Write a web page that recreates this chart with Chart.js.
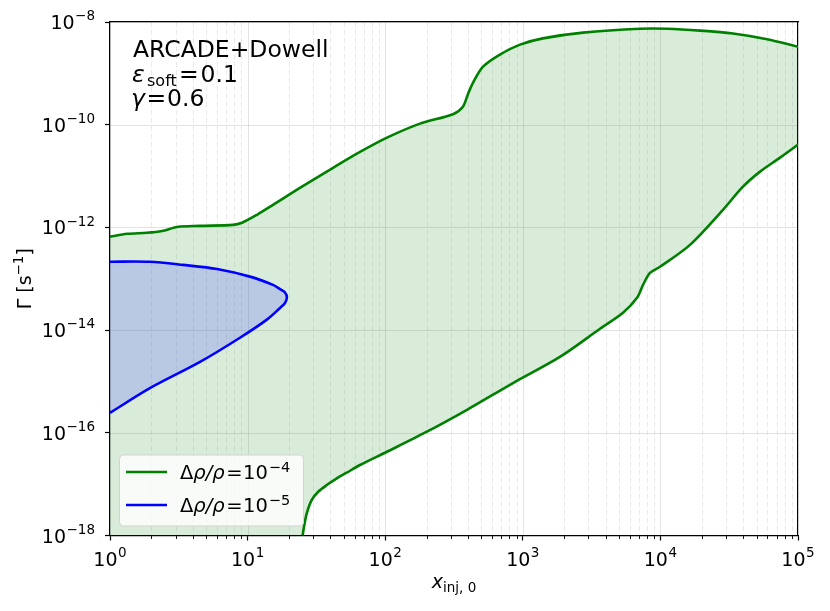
<!DOCTYPE html>
<html>
<head>
<meta charset="utf-8">
<script src="https://cdn.jsdelivr.net/npm/chart.js@4.4.1/dist/chart.umd.min.js"></script>
<style>
html,body{margin:0;padding:0;background:#fff;}
#wrap{width:830px;height:611px;}
</style>
</head>
<body>
<div id="wrap"><canvas id="c" width="830" height="611"></canvas></div>
<script>
// ---------- data ----------
// Delta rho / rho = 1e-4 contour: upper branch
const upperX = [1.0, 1.33, 1.86, 2.39, 3.07, 4.51, 7.83, 9.1, 11.7, 15.3, 24.0, 41.8, 65.6, 103, 179, 311, 367, 398, 435, 514, 682, 955, 1400, 2740, 7110, 11200, 19400, 33700, 59600, 100000];
const upperY = [6.6e-13, 7.5e-13, 7.85e-13, 8.5e-13, 1.02e-12, 1.07e-12, 1.12e-12, 1.23e-12, 1.76e-12, 2.75e-12, 5.9e-12, 1.45e-11, 2.95e-11, 5.6e-11, 1.05e-10, 1.6e-10, 2.24e-10, 3.85e-10, 6.6e-10, 1.35e-9, 2.32e-9, 3.63e-9, 4.8e-9, 6.2e-9, 7.4e-9, 7.4e-9, 6.8e-9, 5.95e-9, 4.6e-9, 3.3e-9];
// Delta rho / rho = 1e-4 contour: lower branch
const lowerX = [25.1, 25.7, 26.9, 29.2, 32.6, 37.6, 44.5, 52.5, 65.6, 103, 201, 393, 849, 1860, 3640, 5350, 6760, 7480, 8400, 9930, 16400, 28500, 39800, 53000, 74000, 100000];
const lowerY = [1e-18, 1.48e-18, 2.7e-18, 4.9e-18, 7.1e-18, 9.6e-18, 1.3e-17, 1.67e-17, 2.36e-17, 4.27e-17, 1.05e-16, 2.8e-16, 9.3e-16, 3.0e-15, 1.06e-14, 2.17e-14, 4.25e-14, 7.6e-14, 1.3e-13, 1.71e-13, 4.57e-13, 2.2e-12, 6.2e-12, 1.22e-11, 2.28e-11, 4.1e-11];
// Delta rho / rho = 1e-5 closed contour
const blueX = [1.0, 1.95, 3.4, 6.0, 10.4, 15.3, 17.2, 18.7, 19.3, 18.6, 17.2, 13.8, 8.8, 4.51, 1.95, 1.0];
const blueY = [2.15e-13, 2.14e-13, 1.86e-13, 1.55e-13, 1.1e-13, 7.6e-14, 6.3e-14, 5.4e-14, 4.3e-14, 3.3e-14, 2.7e-14, 1.6e-14, 7.1e-15, 2.4e-15, 7.4e-16, 2.45e-16];

const xTickExps = [0, 1, 2, 3, 4, 5];
const yTickExps = [-18, -16, -14, -12, -10, -8];
const legendExps = [-4, -5];
const seriesLabels = ['Δρ/ρ = 10⁻⁴', 'Δρ/ρ = 10⁻⁵'];
const annotationLines = ['ARCADE+Dowell', 'ε_soft = 0.1', 'γ = 0.6'];

const X_MIN = 1, X_MAX = 1e5, Y_MIN = 1e-18, Y_MAX = 1e-8;

// ---------- helpers ----------
const F = "'DejaVu Sans', sans-serif";
const MINUS = '\u2212';
const expStr = e => (e < 0 ? MINUS : '') + Math.abs(e);
const pts = (xs, ys) => xs.map((x, i) => ({x: x, y: ys[i]}));

const upperPts = pts(upperX, upperY);
const lowerPts = pts(lowerX, lowerY);
const bluePts = pts(blueX, blueY);

// closed polygon for the green filled region (duplicated junction points keep the curves identical to the lines)
const uFirst = upperPts[0], uLast = upperPts[upperPts.length - 1];
const lRev = lowerPts.slice().reverse();
const lFirst = lowerPts[0], lLast = lowerPts[lowerPts.length - 1];
const corner = {x: X_MIN, y: Y_MIN};
const greenPoly = [uFirst].concat(upperPts, [uLast, lLast], lRev, [lFirst, corner, corner, uFirst]);

// runs: [text, font, dy, gapBefore]
function drawRuns(ctx, x, y, runs) {
  let cx = x;
  for (const r of runs) {
    cx += (r[3] || 0);
    ctx.font = r[1];
    ctx.fillText(r[0], cx, y + (r[2] || 0));
    cx += ctx.measureText(r[0]).width;
  }
  return cx - x;
}
function measureRuns(ctx, runs) {
  let w = 0;
  for (const r of runs) { ctx.font = r[1]; w += (r[3] || 0) + ctx.measureText(r[0]).width; }
  return w;
}
const tickRuns = e => [['10', `19px ${F}`], [expStr(e), `13.5px ${F}`, -8.7, 0.5]];

// ---------- plugins ----------
const gridPlugin = {
  id: 'mplGrid',
  beforeDatasetsDraw(chart) {
    const {ctx, chartArea: a, scales: {x, y}} = chart;
    ctx.save();
    ctx.beginPath();
    ctx.rect(a.left, a.top, a.right - a.left, a.bottom - a.top);
    ctx.clip();
    ctx.lineWidth = 1;
    ctx.setLineDash([5, 3]);
    ctx.strokeStyle = 'rgba(0,0,0,0.085)';
    for (let e = xTickExps[0]; e < xTickExps[xTickExps.length - 1]; e++) {
      for (let m = 2; m <= 9; m++) {
        const px = Math.round(x.getPixelForValue(m * Math.pow(10, e))) + 0.5;
        ctx.beginPath(); ctx.moveTo(px, a.top); ctx.lineTo(px, a.bottom); ctx.stroke();
      }
    }
    ctx.setLineDash([]);
    ctx.strokeStyle = 'rgba(0,0,0,0.11)';
    for (const e of xTickExps) {
      const px = Math.round(x.getPixelForValue(Math.pow(10, e))) + 0.5;
      ctx.beginPath(); ctx.moveTo(px, a.top); ctx.lineTo(px, a.bottom); ctx.stroke();
    }
    for (const e of yTickExps) {
      const py = Math.round(y.getPixelForValue(Math.pow(10, e))) + 0.5;
      ctx.beginPath(); ctx.moveTo(a.left, py); ctx.lineTo(a.right, py); ctx.stroke();
    }
    ctx.restore();
  },
  afterDatasetsDraw(chart) {
    const {ctx, chartArea: a} = chart;
    ctx.save();
    ctx.fillStyle = '#000';
    ctx.textBaseline = 'alphabetic';
    // annotation (mathtext-like)
    const big = `23.5px ${F}`, bigIt = `italic 23.5px ${F}`;
    ctx.font = big; ctx.fillText(annotationLines[0], 133, 56.5);
    ctx.font = bigIt; ctx.fillText('ε', 132, 81.5);
    ctx.font = `16px ${F}`; ctx.fillText('soft', 147, 86);
    ctx.font = big; ctx.fillText('=', 179, 81.5); ctx.fillText('0.1', 200.5, 81.5);
    ctx.font = bigIt; ctx.fillText('γ', 131, 106);
    ctx.font = big; ctx.fillText('=', 146.5, 106); ctx.fillText('0.6', 167, 106);

    // legend box
    const lx = a.left + 9, ly = a.bottom - 81, lw = 184, lh = 71;
    ctx.beginPath();
    if (ctx.roundRect) ctx.roundRect(lx + 0.5, ly + 0.5, lw, lh, 4); else ctx.rect(lx + 0.5, ly + 0.5, lw, lh);
    ctx.fillStyle = 'rgba(255,255,255,0.8)';
    ctx.fill();
    ctx.strokeStyle = '#d3d3d3';
    ctx.lineWidth = 1;
    ctx.stroke();
    const ds = chart.data.datasets.filter(d => d.inLegend);
    ds.forEach((d, i) => {
      const cy = ly + 17.5 + i * 33;
      ctx.strokeStyle = d.borderColor;
      ctx.lineWidth = 2.6;
      ctx.beginPath(); ctx.moveTo(lx + 7, cy); ctx.lineTo(lx + 48, cy); ctx.stroke();
      ctx.fillStyle = '#000';
      drawRuns(ctx, lx + 61, cy + 6.5, [
        ['Δ', `19.5px ${F}`], ['ρ/ρ', `italic 19.5px ${F}`],
        ['=', `19.5px ${F}`, 0, 1.5], ['10', `19.5px ${F}`, 0, 0.5],
        [expStr(legendExps[i]), `14.5px ${F}`, -6.8, 1]
      ]);
    });
    ctx.restore();
  },
  afterDraw(chart) {
    const {ctx, chartArea: a, scales: {x, y}} = chart;
    ctx.save();
    // minor x tick marks
    ctx.strokeStyle = '#000';
    ctx.lineWidth = 0.9;
    for (let e = xTickExps[0]; e < xTickExps[xTickExps.length - 1]; e++) {
      for (let m = 2; m <= 9; m++) {
        const px = Math.round(x.getPixelForValue(m * Math.pow(10, e))) + 0.5;
        ctx.beginPath(); ctx.moveTo(px, a.bottom); ctx.lineTo(px, a.bottom + 3.5); ctx.stroke();
      }
    }
    ctx.fillStyle = '#000';
    ctx.textBaseline = 'alphabetic';
    // tick labels 10^n
    for (const e of xTickExps) {
      const r = tickRuns(e);
      const w = measureRuns(ctx, r);
      drawRuns(ctx, x.getPixelForValue(Math.pow(10, e)) - w / 2, a.bottom + 30.2, r);
    }
    for (const e of yTickExps) {
      const r = tickRuns(e);
      const w = measureRuns(ctx, r);
      drawRuns(ctx, a.left - 15 - w, y.getPixelForValue(Math.pow(10, e)) + 7, r);
    }
    // x axis label
    const xr = [['x', `italic 19px ${F}`], ['inj, 0', `13.5px ${F}`, 4]];
    const xw = measureRuns(ctx, xr);
    drawRuns(ctx, (a.left + a.right) / 2 - xw / 2, 588, xr);
    // y axis label
    const yr = [['Γ [s', `19px ${F}`], [expStr(-1), `13.5px ${F}`, -8]];
    const yr2 = [']', `19px ${F}`];
    const yw = measureRuns(ctx, yr.concat([yr2]));
    ctx.translate(31, (a.top + a.bottom) / 2);
    ctx.rotate(-Math.PI / 2);
    drawRuns(ctx, -yw / 2, 0, yr.concat([yr2]));
    ctx.restore();
  }
};

// ---------- chart ----------
const ctx = document.getElementById('c').getContext('2d');
new Chart(ctx, {
  type: 'scatter',
  data: {
    datasets: [
      {
        label: 'green region',
        data: greenPoly,
        showLine: true, fill: 'shape', tension: 0.3,
        borderWidth: 0, borderColor: 'rgba(0,0,0,0)',
        backgroundColor: 'rgba(0,128,0,0.15)',
        pointRadius: 0, pointHoverRadius: 0, order: 4
      },
      {
        label: 'blue region',
        data: bluePts,
        showLine: true, fill: 'shape', tension: 0.3,
        borderWidth: 0, borderColor: 'rgba(0,0,0,0)',
        backgroundColor: 'rgba(110,119,247,0.3)',
        pointRadius: 0, pointHoverRadius: 0, order: 3
      },
      {
        label: seriesLabels[0], inLegend: true,
        data: upperPts,
        showLine: true, fill: false, tension: 0.3,
        borderColor: '#008000', borderWidth: 2.6,
        pointRadius: 0, pointHoverRadius: 0, order: 2
      },
      {
        label: seriesLabels[0] + ' (lower)',
        data: lowerPts,
        showLine: true, fill: false, tension: 0.3,
        borderColor: '#008000', borderWidth: 2.6,
        pointRadius: 0, pointHoverRadius: 0, order: 2
      },
      {
        label: seriesLabels[1], inLegend: true,
        data: bluePts,
        showLine: true, fill: false, tension: 0.3,
        borderColor: '#0000ff', borderWidth: 2.6,
        pointRadius: 0, pointHoverRadius: 0, order: 1
      }
    ]
  },
  options: {
    responsive: false,
    animation: false,
    events: [],
    layout: {padding: {top: 22, right: 32, left: 0, bottom: 0}},
    plugins: {legend: {display: false}, tooltip: {enabled: false}, title: {display: false}},
    scales: {
      x: {
        type: 'logarithmic', min: X_MIN, max: X_MAX, position: 'bottom',
        afterBuildTicks: s => { s.ticks = xTickExps.map(e => ({value: Math.pow(10, e), major: true})); },
        afterFit: s => { s.height = 75.5; },
        ticks: {display: false, autoSkip: false},
        grid: {drawOnChartArea: false, drawTicks: true, tickLength: 5, tickColor: '#000', tickWidth: 1.2},
        border: {display: true, color: '#000', width: 1.2}
      },
      y: {
        type: 'logarithmic', min: Y_MIN, max: Y_MAX, position: 'left',
        afterBuildTicks: s => { s.ticks = yTickExps.map(e => ({value: Math.pow(10, e), major: true})); },
        afterFit: s => { s.width = 110; },
        ticks: {display: false, autoSkip: false},
        grid: {drawOnChartArea: false, drawTicks: true, tickLength: 5, tickColor: '#000', tickWidth: 1.2},
        border: {display: true, color: '#000', width: 1.2}
      },
      x2: {
        type: 'linear', position: 'top', display: true,
        afterFit: s => { s.height = 0; },
        ticks: {display: false}, grid: {display: false, drawTicks: false},
        border: {display: true, color: '#000', width: 1.2}
      },
      y2: {
        type: 'linear', position: 'right', display: true,
        afterFit: s => { s.width = 0; },
        ticks: {display: false}, grid: {display: false, drawTicks: false},
        border: {display: true, color: '#000', width: 1.2}
      }
    }
  },
  plugins: [gridPlugin]
});
</script>
</body>
</html>
